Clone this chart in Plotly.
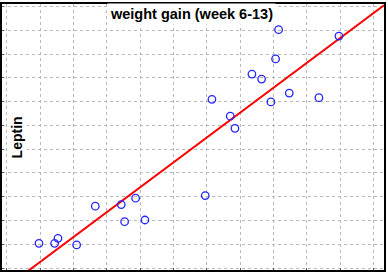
import numpy as np
import plotly.graph_objects as go

# Data (grid units; axis tick labels are hidden in the reference)
weight_gain = [8.15, 9.96, 8.06, 7.35, 7.64, 6.15, 8.47, 9.36, 7.92, 6.70, 6.84,
               5.95, 0.96, 1.43, 1.53, 2.09, 2.65, 3.43, 3.86, 3.53, 4.14]
leptin = [10.03, 9.76, 8.80, 8.16, 7.95, 7.10, 7.36, 7.17, 6.99, 6.39, 5.88,
          3.05, 1.04, 1.04, 1.25, 0.97, 2.60, 2.67, 2.94, 1.95, 2.02]

title_text = "weight gain (week 6-13)"
y_label = "Leptin"

x_range = [-0.149, 11.313]
y_range = [-0.084, 11.11]

# Linear regression line
slope, intercept = np.polyfit(weight_gain, leptin, 1)
fit_x = np.array(x_range)
fit_y = slope * fit_x + intercept

fig = go.Figure()
fig.add_trace(go.Scatter(x=fit_x, y=fit_y, mode="lines",
                         line=dict(color="#ff0000", width=2), hoverinfo="skip"))
fig.add_trace(go.Scatter(x=weight_gain, y=leptin, mode="markers",
                         marker=dict(symbol="circle-open", size=7.5, color="#2424ff",
                                     line=dict(width=1.3, color="#2424ff"))))

axis_common = dict(showgrid=True, gridcolor="#b8b8b8", griddash="dot", gridwidth=1,
                   zeroline=False, showticklabels=False, dtick=1, tick0=0,
                   showline=True, linecolor="black", linewidth=2, mirror=True,
                   ticks="inside", ticklen=2, tickcolor="#555555")

fig.update_xaxes(range=x_range, **axis_common)
fig.update_yaxes(range=y_range, **axis_common)

fig.add_annotation(text="<b>" + title_text + "</b>", xref="paper", yref="paper",
                   x=0.496, y=1 - 10.5 / 268, xanchor="center", yanchor="middle",
                   showarrow=False, bgcolor="white", borderpad=2,
                   font=dict(family="Liberation Sans, Arial, sans-serif", size=14.5, color="black"))
fig.add_annotation(text="<b>" + y_label + "</b>", xref="paper", yref="paper",
                   x=15.5 / 384, y=0.5, xanchor="center", yanchor="middle", textangle=-90,
                   showarrow=False, bgcolor="white", borderpad=1,
                   font=dict(family="Liberation Sans, Arial, sans-serif", size=14, color="black"))

fig.update_layout(width=388, height=272, margin=dict(l=2, r=2, t=2, b=2),
                  plot_bgcolor="white", paper_bgcolor="white", showlegend=False)

fig.write_html("out.html", config={"displayModeBar": False},
               post_script="document.body.style.margin='0px';document.body.style.overflow='hidden';")
